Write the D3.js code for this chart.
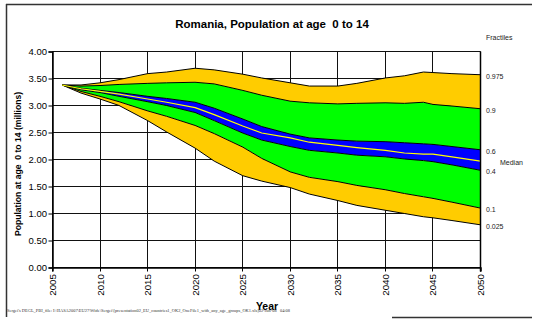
<!DOCTYPE html>
<html>
<head>
<meta charset="utf-8">
<script src="https://cdn.jsdelivr.net/npm/d3@7"></script>
<style>
  html, body { margin: 0; padding: 0; background: #fff; }
  svg { display: block; font-family: "Liberation Sans", Arial, sans-serif; }
  text { white-space: pre; }
</style>
</head>
<body>
<svg id="chart" width="534" height="320"></svg>
<script>
// Projected population aged 0-14 (millions), probabilistic fractiles
const years = [2006, 2008, 2010, 2012, 2015, 2017, 2020, 2022, 2025, 2027, 2030, 2032, 2035, 2037, 2040, 2042, 2044, 2045, 2047, 2050];
const q975  = [3.38, 3.38, 3.42, 3.48, 3.59, 3.62, 3.69, 3.66, 3.58, 3.51, 3.42, 3.36, 3.36, 3.41, 3.51, 3.55, 3.62, 3.61, 3.59, 3.57];
const q900  = [3.38, 3.36, 3.37, 3.39, 3.41, 3.42, 3.43, 3.40, 3.28, 3.19, 3.08, 3.05, 3.03, 3.04, 3.05, 3.04, 3.06, 3.02, 2.99, 2.94];
const q600  = [3.38, 3.32, 3.28, 3.24, 3.17, 3.13, 3.06, 2.95, 2.75, 2.61, 2.47, 2.40, 2.36, 2.34, 2.33, 2.31, 2.29, 2.28, 2.24, 2.18];
const q500  = [3.38, 3.31, 3.26, 3.21, 3.12, 3.06, 2.96, 2.83, 2.62, 2.49, 2.40, 2.32, 2.26, 2.22, 2.17, 2.12, 2.10, 2.10, 2.05, 1.97];
const q400  = [3.38, 3.29, 3.24, 3.17, 3.07, 3.00, 2.87, 2.72, 2.49, 2.36, 2.24, 2.17, 2.12, 2.08, 2.05, 2.01, 1.98, 1.96, 1.90, 1.80];
const q100  = [3.38, 3.26, 3.17, 3.07, 2.90, 2.80, 2.63, 2.48, 2.23, 2.02, 1.77, 1.67, 1.59, 1.52, 1.44, 1.37, 1.31, 1.28, 1.21, 1.10];
const q025  = [3.38, 3.23, 3.12, 3.00, 2.72, 2.51, 2.21, 1.97, 1.70, 1.60, 1.48, 1.36, 1.24, 1.15, 1.06, 1.00, 0.94, 0.92, 0.87, 0.79];

const xTicks = [2005, 2010, 2015, 2020, 2025, 2030, 2035, 2040, 2045, 2050];
const yTicks = [0, 0.5, 1, 1.5, 2, 2.5, 3, 3.5, 4];

const titleText = "Romania, Population at age  0 to 14";
const yTitle = "Population at age  0 to 14 (millions)";
const xTitle = "Year";
const footer = "Sergei's DEGL_PBI_file: I:\\IIASA2007\\EU27\\Wide\\Sergei\\[presentation02_EU_countries1_OK2_OneFile1_with_any_age_groups_OK1.xls]02-Jun-08   04:08";

const svg = d3.select("#chart");

const x = d3.scaleLinear().domain([2005, 2050]).range([52.5, 480.5]);
const y = d3.scaleLinear().domain([0, 4]).range([267.5, 51.5]);
const px = v => Math.round(x(v) - 0.5) + 0.5;

// outer frame
const frame = svg.append("g").attr("stroke", "#333").attr("stroke-width", 1.5).attr("fill", "none");
frame.append("line").attr("x1", 6).attr("x2", 532).attr("y1", 4.5).attr("y2", 4.5);
frame.append("line").attr("x1", 6.5).attr("x2", 6.5).attr("y1", 4).attr("y2", 317);
frame.append("line").attr("x1", 392).attr("x2", 532).attr("y1", 317.5).attr("y2", 317.5);

// title
svg.append("text").attr("x", 272).attr("y", 28).attr("text-anchor", "middle")
  .attr("font-size", 11.5).attr("font-weight", "bold").text(titleText);

// grid
const grid = svg.append("g").attr("stroke", "#111").attr("stroke-width", 1);
yTicks.forEach(t => {
  grid.append("line").attr("x1", x(2005)).attr("x2", x(2050)).attr("y1", y(t)).attr("y2", y(t));
});
xTicks.forEach(t => {
  grid.append("line").attr("x1", px(t)).attr("x2", px(t)).attr("y1", y(4)).attr("y2", y(0));
});

// fractile bands
const rows = years.map((yr, i) => ({
  yr, a: q975[i], b: q900[i], c: q600[i], m: q500[i], d: q400[i], e: q100[i], f: q025[i]
}));
const band = (hi, lo) => d3.area().x(r => x(r.yr)).y0(r => y(r[lo])).y1(r => y(r[hi]));
const bands = [
  ["a", "b", "#FFCC00"],
  ["b", "c", "#00FF00"],
  ["c", "d", "#0000FF"],
  ["d", "e", "#00FF00"],
  ["e", "f", "#FFCC00"]
];
const gb = svg.append("g");
bands.forEach(([hi, lo, col]) => {
  gb.append("path").datum(rows).attr("d", band(hi, lo)).attr("fill", col).attr("stroke", "none");
});
const line = k => d3.line().x(r => x(r.yr)).y(r => y(r[k]));
["a", "b", "c", "d", "e", "f"].forEach(k => {
  gb.append("path").datum(rows).attr("d", line(k)).attr("fill", "none")
    .attr("stroke", "#000").attr("stroke-width", 1);
});
gb.append("path").datum(rows).attr("d", line("m")).attr("fill", "none")
  .attr("stroke", "#FFFF00").attr("stroke-width", 1.2);

// axes
const yAxis = d3.axisLeft(y).tickValues(yTicks).tickSize(4).tickFormat(d3.format(".2f"));
const gy = svg.append("g").attr("transform", "translate(52.5,0)").call(yAxis);
gy.select(".domain").attr("stroke", "#000").attr("stroke-width", 1.5);
gy.selectAll(".tick line").attr("stroke", "#000");
gy.selectAll(".tick text").attr("font-size", 9.5).attr("fill", "#000")
  .attr("font-family", "Liberation Sans, Arial, sans-serif").attr("x", -5.5);

const xAxis = d3.axisBottom(x).tickValues(xTicks).tickSize(4).tickFormat(d3.format("d"));
const gx = svg.append("g").attr("transform", "translate(0,267.5)").call(xAxis);
gx.select(".domain").attr("stroke", "#000").attr("stroke-width", 1.5);
gx.selectAll(".tick").attr("transform", d => `translate(${px(d)},0)`);
gx.selectAll(".tick line").attr("stroke", "#000");
gx.selectAll(".tick text")
  .attr("font-size", 9.8).attr("fill", "#000")
  .attr("font-family", "Liberation Sans, Arial, sans-serif")
  .attr("transform", "rotate(-90)")
  .attr("text-anchor", "end").attr("dy", "0.35em")
  .attr("x", -6.5).attr("y", 0);

// right edge of plot area
svg.append("line").attr("x1", px(2050)).attr("x2", px(2050)).attr("y1", y(4)).attr("y2", y(0) + 4)
  .attr("stroke", "#000").attr("stroke-width", 1.5);

// axis titles
svg.append("text").attr("transform", "translate(21,164) rotate(-90)")
  .attr("text-anchor", "middle").attr("font-size", 8.6).attr("font-weight", "bold").text(yTitle);
svg.append("text").attr("x", 267).attr("y", 309.5).attr("text-anchor", "middle")
  .attr("font-size", 10.5).attr("font-weight", "bold").text(xTitle);

// fractile labels at the right end
const last = years.length - 1;
const fr = svg.append("g").attr("font-size", 7).attr("fill", "#222");
fr.append("text").attr("x", 486).attr("y", 40).text("Fractiles");
[["0.975", q975], ["0.9", q900], ["0.6", q600], ["0.4", q400], ["0.1", q100], ["0.025", q025]].forEach(([lab, arr]) => {
  fr.append("text").attr("x", 486).attr("y", y(arr[last]) + 4).text(lab);
});
fr.append("text").attr("x", 500).attr("y", y(q500[last]) + 4).text("Median");

// footer
svg.append("text").attr("x", 7).attr("y", 312).attr("font-size", 4)
  .attr("font-family", "Liberation Serif, serif").attr("fill", "#333")
  .attr("textLength", 283).attr("lengthAdjust", "spacingAndGlyphs").text(footer);
</script>
</body>
</html>
